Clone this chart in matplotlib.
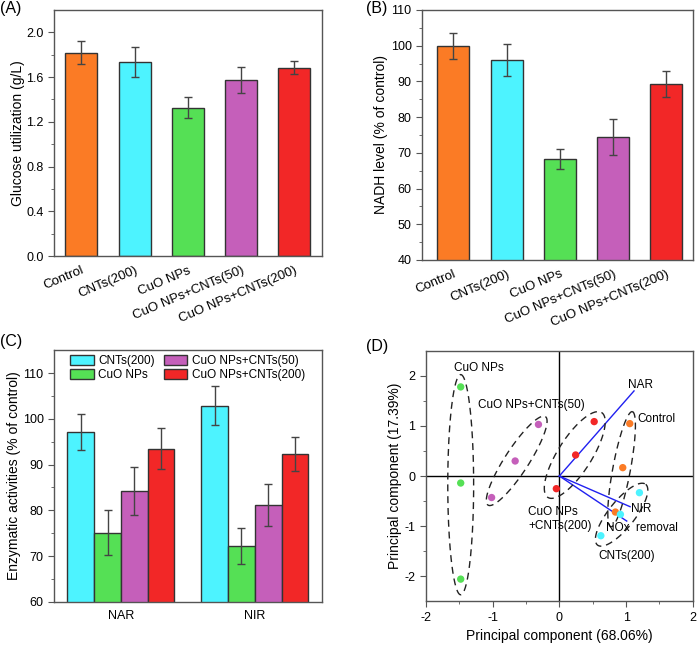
import numpy as np
import matplotlib
matplotlib.use("Agg")
import matplotlib.pyplot as plt

plt.rcParams["font.family"] = ["Liberation Sans", "DejaVu Sans"]
plt.rcParams["font.size"] = 9
plt.rcParams["axes.unicode_minus"] = False

# ---- data ----
groups = ["Control", "CNTs(200)", "CuO NPs", "CuO NPs+CNTs(50)", "CuO NPs+CNTs(200)"]
colors = ["#FB7B25", "#4DF3FF", "#55E055", "#C55FBA", "#F22727"]

glucose = [1.82, 1.735, 1.325, 1.57, 1.685]
glucose_err = [0.10, 0.134, 0.095, 0.116, 0.055]

nadh = [100.0, 95.9, 68.3, 74.5, 89.3]
nadh_err = [3.6, 4.5, 2.8, 5.1, 3.75]

enzymes = ["NAR", "NIR"]
enz_groups = ["CNTs(200)", "CuO NPs", "CuO NPs+CNTs(50)", "CuO NPs+CNTs(200)"]
enz_nar = [97.1, 75.1, 84.3, 93.5]
enz_nar_err = [3.85, 4.95, 5.2, 4.45]
enz_nir = [102.9, 72.2, 81.2, 92.4]
enz_nir_err = [4.2, 4.0, 4.6, 3.7]

# PCA scores (3 replicates per treatment)
pca_x = {
    "Control": [1.055, 0.95, 0.84],
    "CNTs(200)": [1.2, 0.915, 0.622],
    "CuO NPs": [-1.478, -1.478, -1.478],
    "CuO NPs+CNTs(50)": [-0.313, -0.662, -1.015],
    "CuO NPs+CNTs(200)": [0.522, 0.244, -0.045],
}
pca_y = {
    "Control": [1.047, 0.167, -0.72],
    "CNTs(200)": [-0.333, -0.767, -1.193],
    "CuO NPs": [1.78, -0.14, -2.06],
    "CuO NPs+CNTs(50)": [1.03, 0.30, -0.43],
    "CuO NPs+CNTs(200)": [1.087, 0.42, -0.253],
}
loading_x = [1.119, 1.06, 1.01]
loading_y = [1.70, -0.613, -0.90]

edge = "#333333"
err_kw = dict(ecolor="#444444", elinewidth=1, capsize=3, capthick=1)
label_fs = 10
xtick_fs = 9.5

fig = plt.figure(figsize=(6.97, 6.45), dpi=100)


def style_axes(ax):
    for s in ax.spines.values():
        s.set_color("#555555")
        s.set_linewidth(1)
    ax.tick_params(axis="y", which="both", direction="out", right=False, length=4, color="#555555")
    ax.tick_params(axis="y", which="minor", length=2.5)


# ================= (A) glucose =================
axA = fig.add_axes([0.0775, 0.603, 0.384, 0.3815])
x = np.arange(len(groups))
axA.bar(x, glucose, 0.6, color=colors, edgecolor=edge, linewidth=1,
        yerr=glucose_err, error_kw=err_kw)
axA.set_xlim(-0.51, 4.51)
axA.set_ylim(0, 2.2)
axA.set_yticks(np.arange(0, 2.01, 0.4))
axA.set_yticks(np.arange(0.2, 2.2, 0.4), minor=True)
axA.yaxis.set_major_formatter(matplotlib.ticker.FormatStrFormatter("%.1f"))
axA.set_xticks(x)
axA.set_xticklabels(groups, rotation=23, ha="right", rotation_mode="anchor", fontsize=xtick_fs)
axA.tick_params(axis="x", length=0, pad=6)
axA.set_ylabel("Glucose utilization (g/L)", fontsize=label_fs, labelpad=1)
style_axes(axA)
fig.text(0.0, 0.999, "(A)", fontsize=11.5, va="top", ha="left")

# ================= (B) NADH =================
axB = fig.add_axes([0.6055, 0.597, 0.3885, 0.3875])
axB.bar(x, nadh, 0.6, color=colors, edgecolor=edge, linewidth=1,
        yerr=nadh_err, error_kw=err_kw)
axB.set_xlim(-0.59, 4.5)
axB.set_ylim(40, 110)
axB.set_yticks(np.arange(40, 111, 10))
axB.set_yticks(np.arange(45, 110, 10), minor=True)
axB.set_xticks(x)
axB.set_xticklabels(groups, rotation=23, ha="right", rotation_mode="anchor", fontsize=xtick_fs)
axB.tick_params(axis="x", length=0, pad=6)
axB.set_ylabel("NADH level (% of control)", fontsize=label_fs, labelpad=2)
style_axes(axB)
fig.text(0.525, 0.999, "(B)", fontsize=11.5, va="top", ha="left")

# ================= (C) enzymes =================
axC = fig.add_axes([0.0775, 0.0667, 0.384, 0.3905])
w = 0.2
xc = np.arange(1, len(enzymes) + 1)
for i, name in enumerate(enz_groups):
    vals = [enz_nar[i], enz_nir[i]]
    errs = [enz_nar_err[i], enz_nir_err[i]]
    axC.bar(xc + (i - 1.5) * w, vals, w, color=colors[i + 1], edgecolor=edge,
            linewidth=1, yerr=errs, error_kw=err_kw, label=name)
axC.set_xlim(0.5, 2.5)
axC.set_ylim(60, 115)
axC.set_yticks(np.arange(60, 111, 10))
axC.set_yticks(np.arange(65, 115, 10), minor=True)
axC.set_xticks(xc)
axC.set_xticklabels(enzymes)
axC.tick_params(axis="x", length=0, pad=6)
axC.set_ylabel("Enzymatic activities (% of control)", fontsize=label_fs, labelpad=1)
style_axes(axC)
axC.legend(ncol=2, loc="upper left", bbox_to_anchor=(0.042, 1.0), frameon=False,
           handlelength=2.0, handleheight=1.0, handletextpad=0.4,
           columnspacing=0.75, labelspacing=0.15, borderaxespad=0.0, fontsize=8.5)
fig.text(0.0, 0.482, "(C)", fontsize=11.5, va="top", ha="left")

# ================= (D) PCA =================
axD = fig.add_axes([0.611, 0.068, 0.383, 0.388])
axD.axhline(0, color="black", linewidth=1)
axD.axvline(0, color="black", linewidth=1)
for i, name in enumerate(groups):
    axD.scatter(pca_x[name], pca_y[name], s=28, color=colors[i], zorder=3,
                edgecolors="none")
for nx, ny in zip(loading_x, loading_y):
    axD.plot([0, nx], [0, ny], color="#2020F0", linewidth=1)

# dashed ellipses around replicates: centre, half major vector, half minor vector
ell_c = [(-1.478, -0.173), (-0.639, 0.303), (0.231, 0.42), (0.933, 0.136), (0.933, -0.773)]
ell_u = [(0.0, 2.2), (0.43, 0.884), (0.40, 0.85), (0.161, 1.15), (0.361, 0.607)]
ell_v = [(0.194, 0.0), (0.15, -0.13), (0.22, -0.17), (0.13, -0.033), (0.155, -0.165)]
t = np.linspace(0, 2 * np.pi, 200)
for c, u, v in zip(ell_c, ell_u, ell_v):
    ex = c[0] + u[0] * np.cos(t) + v[0] * np.sin(t)
    ey = c[1] + u[1] * np.cos(t) + v[1] * np.sin(t)
    axD.plot(ex, ey, color="#222222", linewidth=1, linestyle=(0, (5, 3.5)))

fs = 8.5
axD.text(-1.58, 2.15, "CuO NPs", fontsize=fs, va="center")
axD.text(-1.22, 1.42, "CuO NPs+CNTs(50)", fontsize=fs, va="center")
axD.text(1.03, 1.81, "NAR", fontsize=fs, va="center")
axD.text(1.17, 1.13, "Control", fontsize=fs, va="center")
axD.text(-0.47, -0.86, "CuO NPs\n+CNTs(200)", fontsize=fs, va="center", linespacing=1.3)
axD.text(1.08, -0.65, "NIR", fontsize=fs, va="center")
axD.text(0.70, -1.03, "NOx  removal", fontsize=fs, va="center")
axD.text(0.58, -1.59, "CNTs(200)", fontsize=fs, va="center")

axD.set_xlim(-2, 2)
axD.set_ylim(-2.5, 2.5)
axD.set_xticks([-2, -1, 0, 1, 2])
axD.set_xticks([-1.5, -0.5, 0.5, 1.5], minor=True)
axD.set_yticks([-2, -1, 0, 1, 2])
axD.set_yticks([-1.5, -0.5, 0.5, 1.5], minor=True)
axD.tick_params(axis="x", which="both", direction="out", top=False, length=4, color="#555555")
axD.tick_params(axis="x", which="minor", length=2.5)
axD.set_xlabel("Principal component (68.06%)", fontsize=label_fs)
axD.set_ylabel("Principal component (17.39%)", fontsize=label_fs, labelpad=2)
style_axes(axD)
fig.text(0.525, 0.474, "(D)", fontsize=11.5, va="top", ha="left")

fig.savefig("out.png", dpi=100)
